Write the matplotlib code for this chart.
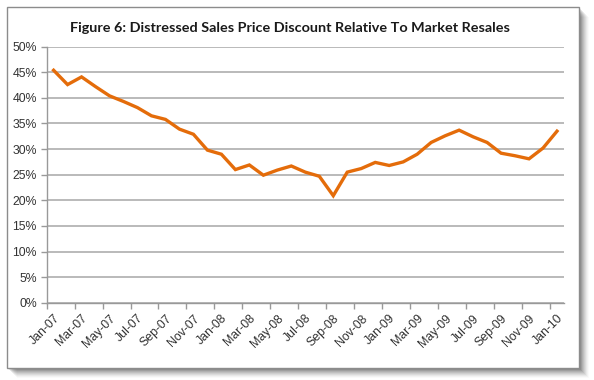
import matplotlib
matplotlib.use("Agg")
import matplotlib.pyplot as plt
from matplotlib.patches import Rectangle
from matplotlib.ticker import FixedLocator, PercentFormatter

title = "Figure 6: Distressed Sales Price Discount Relative To Market Resales"
months = ["Jan-07","Feb-07","Mar-07","Apr-07","May-07","Jun-07","Jul-07","Aug-07","Sep-07","Oct-07","Nov-07","Dec-07",
          "Jan-08","Feb-08","Mar-08","Apr-08","May-08","Jun-08","Jul-08","Aug-08","Sep-08","Oct-08","Nov-08","Dec-08",
          "Jan-09","Feb-09","Mar-09","Apr-09","May-09","Jun-09","Jul-09","Aug-09","Sep-09","Oct-09","Nov-09","Dec-09",
          "Jan-10"]
discount = [45.4, 42.6, 44.1, 42.2, 40.4, 39.3, 38.1, 36.5, 35.8, 33.9, 32.9, 29.8,
            29.0, 26.0, 26.9, 24.9, 25.9, 26.7, 25.5, 24.7, 20.9, 25.5, 26.2, 27.4,
            26.8, 27.5, 29.0, 31.3, 32.6, 33.7, 32.4, 31.3, 29.2, 28.7, 28.1, 30.2,
            33.5]
yticks = [0, 5, 10, 15, 20, 25, 30, 35, 40, 45, 50]

W, H = 594, 380
fig = plt.figure(figsize=(W/100, H/100), dpi=100)
fig.patch.set_facecolor("white")

# shadow
for k, a in enumerate([0.10, 0.10, 0.09, 0.08, 0.07, 0.06, 0.05, 0.04, 0.03, 0.02]):
    off = 1 + k
    fig.patches.append(Rectangle(((7+off)/W, 1-(368+off)/H), (572)/W, (361)/H,
                                 transform=fig.transFigure, facecolor="black", alpha=a,
                                 edgecolor="none", zorder=0))
# chart box
fig.patches.append(Rectangle((7/W, 1-368/H), 572/W, 361/H, transform=fig.transFigure,
                             facecolor="white", edgecolor="#8c8c8c", linewidth=1.0, zorder=1))

ax = fig.add_axes([46.6/W, 1-302.7/H, (564-46.6)/W, (302.7-46.7)/H])
ax.set_zorder(2)
ax.patch.set_alpha(0)
x = list(range(len(months)))
ax.plot(x, discount, color="#E46C0A", linewidth=2.4, solid_joinstyle="miter", zorder=3)

ax.set_xlim(-0.5, len(months)-0.5)
ax.set_ylim(0, 50)
ax.yaxis.set_major_locator(FixedLocator(yticks))
ax.yaxis.set_major_formatter(PercentFormatter(decimals=0))
ax.grid(axis="y", color="#b4b4b4", linewidth=1.3)
ax.set_axisbelow(True)

lab_pos = x[::2]
ax.set_xticks(lab_pos)
ax.set_xticklabels(months[::2], rotation=45, ha="right", va="top", rotation_mode="anchor",
                   fontsize=8.8, family="Liberation Sans", color="#333333")
ax.set_xticks([p - 0.5 for p in lab_pos], minor=True)
ax.tick_params(axis="x", which="major", length=0, pad=7)
ax.tick_params(axis="x", which="minor", length=4, color="#999999", width=1)
ax.tick_params(axis="y", length=4, color="#999999", width=1, pad=3)
for lab in ax.get_yticklabels():
    lab.set_fontsize(8.8)
    lab.set_family("Liberation Sans")
    lab.set_color("#333333")

for s in ["top", "right"]:
    ax.spines[s].set_visible(False)
for s in ["left", "bottom"]:
    ax.spines[s].set_color("#999999")
    ax.spines[s].set_linewidth(1.0)

fig.text(290/W, 1-28/H, title, ha="center", va="center", fontsize=10.4,
         fontweight="bold", family="Lato", color="#1a1a1a", zorder=5)

fig.savefig("out.png", dpi=100, facecolor="white")
